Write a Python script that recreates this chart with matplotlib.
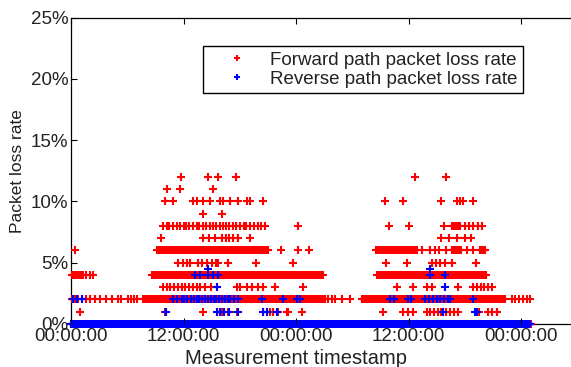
import numpy as np
import matplotlib
matplotlib.use("Agg")
import matplotlib.pyplot as plt

plt.rcParams['font.family'] = ['Liberation Sans', 'DejaVu Sans']

# ---------------- data (hours since first midnight, loss rate in %) ----------------
# dense runs of measurements: (loss %, start hour, end hour)
fwd_runs = [
    (0, 0.0, 49.15),
    (2, 7.7, 27.1), (2, 31.0, 46.3),
    (4, 0.1, 1.3), (4, 8.64, 26.9), (4, 32.6, 44.3),
    (6, 9.2, 21.0), (6, 32.5, 36.9), (6, 40.6, 41.6), (6, 43.6, 44.2),
    (8, 40.6, 41.5),
]
rev_runs = [
    (0, 0.0, 49.0),
]
sample_step_h = 0.1  # measurement interval inside dense runs

# isolated forward-path points per loss level
fwd_pts_1 = [0.96, 10.03, 14.05, 15.54, 16.1, 16.7, 17.67, 20.48, 20.9, 21.23, 21.5, 22.08,
             23.01, 23.18, 24.61, 33.31, 35.41, 35.9, 36.48, 37.94, 38.3, 38.7, 39.1, 39.5,
             40.0, 40.4, 40.8, 41.3, 43.5, 44.48, 44.9, 45.41]
fwd_pts_2 = [0.1, 0.43, 0.75, 1.17, 1.6, 2.03, 2.56, 3.09, 3.73, 4.37, 5.01, 5.33,
             6.08, 6.4, 6.72, 7.04, 27.4, 27.8, 28.2, 28.9, 29.76, 47.0, 47.4, 47.8,
             48.2, 48.6, 48.96]
fwd_pts_3 = [9.81, 10.2, 10.6, 11.0, 11.4, 11.8, 12.2, 12.6, 13.0, 13.4, 13.76, 14.29,
             14.9, 15.54, 17.67, 18.03, 18.74, 19.3, 19.9, 20.5, 21.76, 24.72, 34.74,
             36.51, 37.94, 38.47, 41.31, 42.88, 43.3, 43.7, 44.1, 44.48, 44.88]
fwd_pts_4 = [1.6, 2.0, 2.35]
fwd_pts_5 = [11.41, 11.9, 12.4, 12.69, 13.55, 14.0, 14.5, 15.0, 15.5, 15.71, 16.75,
             19.73, 23.71, 33.6, 35.81, 38.47, 38.93, 39.36, 39.89, 40.61, 43.2]
fwd_pts_6 = [0.43, 22.37, 24.21, 25.39, 37.4, 38.3, 38.8, 39.3, 40.0, 42.2, 42.9]
fwd_pts_7 = [9.6, 14.08, 14.7, 15.36, 16.11, 16.5, 16.9, 17.3, 17.81, 19.09,
             39.43, 40.35, 41.2, 42.03, 42.63]
fwd_pts_8 = [9.8, 10.2, 10.5, 10.9, 11.3, 11.6, 12.0, 12.3, 12.6, 13.0, 13.4, 13.7,
             14.1, 14.4, 14.8, 15.1, 15.5, 15.9, 16.2, 16.5, 16.9, 17.3, 17.6, 18.0,
             18.4, 18.7, 19.1, 19.5, 19.9, 20.3, 20.7, 24.21, 33.95, 36.09, 39.79,
             42.03, 42.4, 42.9, 43.4, 43.81]
fwd_pts_9 = [14.05, 16.07]
fwd_pts_10 = [10.03, 10.88, 13.0, 13.4, 14.1, 14.83, 15.89, 16.2, 16.96, 17.81, 18.74,
              19.09, 20.45, 33.49, 35.45, 39.43, 41.14, 41.5, 41.85, 42.85]
fwd_pts_11 = [10.27, 11.63, 15.18]
fwd_pts_12 = [11.72, 14.65, 15.72, 17.6, 36.69, 40.0]

# isolated reverse-path points per loss level
rev_pts_1 = [10.1, 15.54, 15.9, 16.3, 16.8, 17.81, 20.48, 20.9, 21.94, 39.68, 43.1, 43.3]
rev_pts_2 = [0.2, 0.6, 1.2, 10.88, 11.3, 11.8, 12.1, 12.4, 12.8, 13.1, 13.41, 13.7,
             14.0, 14.3, 14.6, 14.9, 15.2, 15.5, 15.8, 16.1, 16.4, 16.7, 17.0, 17.4,
             17.8, 20.34, 22.65, 24.07, 24.4, 34.03, 34.5, 35.95, 36.3, 37.76, 38.2,
             38.6, 39.0, 39.4, 39.8, 40.2, 40.43, 42.88]
rev_pts_3 = [15.54, 39.89]
rev_pts_4 = [13.23, 13.76, 14.6, 15.15, 15.68, 38.29, 39.89]
rev_pts_4_5 = [14.65, 38.29]

x_tick_hours = [0, 12, 24, 36, 48]
x_tick_labels = ['00:00:00', '12:00:00', '00:00:00', '12:00:00', '00:00:00']
y_ticks = [0, 5, 10, 15, 20, 25]
y_tick_labels = ['0%', '5%', '10%', '15%', '20%', '25%']


def collect(runs, pts_by_level):
    xs, ys = [], []
    for lvl, a, b in runs:
        t = np.arange(a, b + 1e-9, sample_step_h)
        xs.append(t)
        ys.append(np.full(t.size, float(lvl)))
    for lvl, pts in pts_by_level:
        xs.append(np.asarray(pts, float))
        ys.append(np.full(len(pts), float(lvl)))
    return np.concatenate(xs), np.concatenate(ys)


fx, fy = collect(fwd_runs, [(1, fwd_pts_1), (2, fwd_pts_2), (3, fwd_pts_3), (4, fwd_pts_4),
                            (5, fwd_pts_5), (6, fwd_pts_6), (7, fwd_pts_7), (8, fwd_pts_8),
                            (9, fwd_pts_9), (10, fwd_pts_10), (11, fwd_pts_11),
                            (12, fwd_pts_12)])
rx, ry = collect(rev_runs, [(1, rev_pts_1), (2, rev_pts_2), (3, rev_pts_3), (4, rev_pts_4),
                            (4.5, rev_pts_4_5)])

# ---------------- figure ----------------
W, H = 571, 367
fig = plt.figure(figsize=(W / 100, H / 100), dpi=100)
ax_left, ax_top, ax_bottom = 71, 17.5, 324
xmax_h = 60.0
px_per_h = 9.375
ax_w_px = xmax_h * px_per_h
ax = fig.add_axes([ax_left / W, (H - ax_bottom) / H, ax_w_px / W, (ax_bottom - ax_top) / H])

ax.plot(fx, fy, linestyle='none', marker='+', color=(1, 0, 0), markersize=6,
        markeredgewidth=1.5, label='Forward path packet loss rate', zorder=2, clip_on=False)
ax.plot(rx, ry, linestyle='none', marker='+', color=(0, 0, 1), markersize=6,
        markeredgewidth=1.5, label='Reverse path packet loss rate', zorder=3, clip_on=False)

ax.set_xlim(0, xmax_h)
ax.set_ylim(0, 25)
ax.set_xticks(x_tick_hours)
ax.set_xticklabels(x_tick_labels)
ax.set_yticks(y_ticks)
ax.set_yticklabels(y_tick_labels)
ax.tick_params(direction='in', length=4, width=0.8, labelsize=13.5, pad=2,
               top=True, right=True, colors='black', labelcolor='#222222')
ax.tick_params(axis='x', pad=3)
for s in ax.spines.values():
    s.set_linewidth(0.9)
    s.set_zorder(1)
ax.xaxis.set_zorder(4)

ax.set_ylabel('Packet loss rate', fontsize=12.5, color='#222222')
ax.yaxis.set_label_coords(-(ax_left - 25) / ax_w_px, 0.5)
ax.set_xlabel('Measurement timestamp', fontsize=14.5, color='#222222')
ax.xaxis.set_label_coords(24 / xmax_h, -(358 - ax_bottom) / (ax_bottom - ax_top))
ax.xaxis.label.set_va('center')

leg = ax.legend(loc='upper left', bbox_to_anchor=((203 - ax_left) / ax_w_px,
                1 - (46 - ax_top) / (ax_bottom - ax_top)),
                borderaxespad=0, fontsize=13.5, frameon=True, fancybox=False,
                edgecolor='black', framealpha=1, numpoints=1, markerscale=0.65,
                borderpad=0.3, handlelength=3.0, handletextpad=0.25, labelspacing=0.1)
leg.get_frame().set_linewidth(1.0)
leg.set_zorder(5)
for t in leg.get_texts():
    t.set_color('#222222')

fig.savefig('out.png', dpi=100)
